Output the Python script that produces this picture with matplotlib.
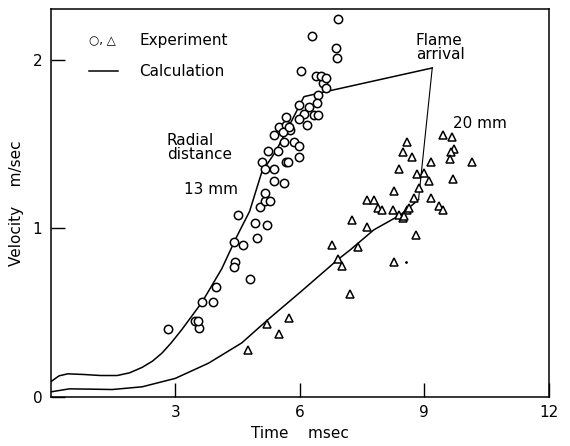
import matplotlib.pyplot as plt

# experiment, radial distance 13 mm (circles)
t13 = [2.83, 3.47, 3.57, 3.54, 3.64, 3.90, 3.97, 4.41, 4.43, 4.41, 4.64, 4.79,
       4.91, 4.98, 5.22, 4.50, 5.03, 5.15, 5.27, 5.15, 5.39, 5.63, 5.10, 5.15,
       5.39, 5.67, 5.24, 5.48, 5.63, 5.87, 5.99, 5.39, 5.51, 5.67, 5.67, 5.77,
       5.60, 5.75, 5.99, 6.22, 6.10, 6.34, 6.44, 5.99, 6.18, 6.44, 6.42, 6.56,
       6.63, 6.39, 6.51, 6.63, 6.03, 6.89, 6.87, 6.30, 6.92, 5.72, 5.99]
v13 = [0.40, 0.45, 0.41, 0.45, 0.56, 0.56, 0.65, 0.92, 0.80, 0.77, 0.90, 0.70,
       1.03, 0.94, 1.02, 1.08, 1.125, 1.16, 1.16, 1.21, 1.28, 1.27, 1.39, 1.35,
       1.35, 1.39, 1.46, 1.46, 1.51, 1.51, 1.49, 1.55, 1.60, 1.61, 1.66, 1.58,
       1.57, 1.60, 1.73, 1.72, 1.68, 1.67, 1.67, 1.65, 1.61, 1.79, 1.74, 1.86,
       1.83, 1.90, 1.90, 1.89, 1.93, 2.01, 2.07, 2.14, 2.24, 1.39, 1.42]

# experiment, radial distance 20 mm (triangles)
t20 = [4.76, 5.22, 5.51, 5.75, 6.78, 6.92, 7.01, 7.21, 7.25, 7.40, 7.61, 7.61,
       7.78, 7.88, 7.97, 8.24, 8.38, 8.48, 8.59, 8.26, 8.38, 8.48, 8.59, 8.71,
       8.83, 9.00, 8.88, 9.10, 8.74, 8.62, 8.26, 8.81, 9.15, 9.36, 9.46, 9.17,
       9.46, 9.67, 9.72, 9.65, 9.62, 9.70, 10.15, 8.50]
v20 = [0.28, 0.435, 0.375, 0.47, 0.90, 0.815, 0.775, 0.61, 1.05, 0.89, 1.01, 1.17,
       1.17, 1.12, 1.11, 1.11, 1.08, 1.06, 1.11, 1.22, 1.35, 1.45, 1.51, 1.42,
       1.32, 1.33, 1.24, 1.28, 1.18, 1.12, 0.80, 0.96, 1.18, 1.13, 1.11, 1.39,
       1.55, 1.54, 1.47, 1.45, 1.41, 1.29, 1.39, 1.07]

# calculation curves
tc13 = [0.0, 0.2, 0.41, 0.8, 1.2, 1.6, 1.9, 2.2, 2.45, 2.68, 2.9, 3.16, 3.64,
        4.12, 4.48, 4.79, 5.08, 5.43, 5.79, 6.10, 6.63, 9.19]
vc13 = [0.09, 0.125, 0.137, 0.133, 0.127, 0.127, 0.143, 0.175, 0.212, 0.26,
        0.32, 0.40, 0.56, 0.76, 0.95, 1.10, 1.33, 1.46, 1.63, 1.78, 1.81, 1.95]
tc20 = [0.0, 0.45, 1.0, 1.48, 2.2, 3.0, 3.8, 4.6, 5.24, 6.03, 6.92, 7.23, 7.78,
        8.43, 8.86]
vc20 = [0.03, 0.048, 0.046, 0.044, 0.06, 0.11, 0.20, 0.32, 0.46, 0.625, 0.815,
        0.875, 0.99, 1.08, 1.17]

# flame arrival: from peak of 13 mm curve down to end of 20 mm curve
t_flame = [9.19, 8.86]
v_flame = [1.95, 1.17]

plt.rcParams['font.family'] = 'DejaVu Sans'
fig = plt.figure(figsize=(5.7, 4.46), dpi=100)
ax = fig.add_axes([0.089, 0.110, 0.874, 0.870])

ax.plot(tc13, vc13, color='black', lw=1.1)
ax.plot(tc20, vc20, color='black', lw=1.1)
ax.plot(t_flame, v_flame, color='black', lw=0.8)
ax.plot(t13, v13, 'o', mfc='white', mec='black', mew=1.1, ms=6)
ax.plot(t20, v20, '^', mfc='white', mec='black', mew=1.1, ms=6)
ax.plot([8.55], [0.80], '.', color='black', ms=2)

ax.set_xlim(0, 12)
ax.set_ylim(0, 2.3)
ax.set_xticks([3, 6, 9, 12])
ax.set_xticklabels(['3', '6', '9', '12'])
ax.set_yticks([0, 1, 2])
ax.tick_params(direction='in', length=10, width=1, labelsize=11, pad=6)
for s in ax.spines.values():
    s.set_linewidth(1.1)

ax.set_xlabel('Time    msec', fontsize=11, labelpad=4)
ax.set_ylabel('Velocity    m/sec', fontsize=11, labelpad=6)

# legend drawn as text
ax.text(0.92, 2.11, '○, △', fontsize=8.5, va='center')
ax.plot([0.93, 1.62], [1.93, 1.93], color='black', lw=1.1)
ax.text(2.13, 2.11, 'Experiment', fontsize=11, va='center')
ax.text(2.13, 1.93, 'Calculation', fontsize=11, va='center')

ax.text(2.80, 1.48, 'Radial\ndistance', fontsize=11, va='center', linespacing=0.95)
ax.text(3.20, 1.23, '13 mm', fontsize=11, va='center')
ax.text(8.79, 2.07, 'Flame\narrival', fontsize=11, va='center', linespacing=0.95)
ax.text(9.70, 1.62, '20 mm', fontsize=11, va='center')

plt.savefig('out.png', dpi=100)
